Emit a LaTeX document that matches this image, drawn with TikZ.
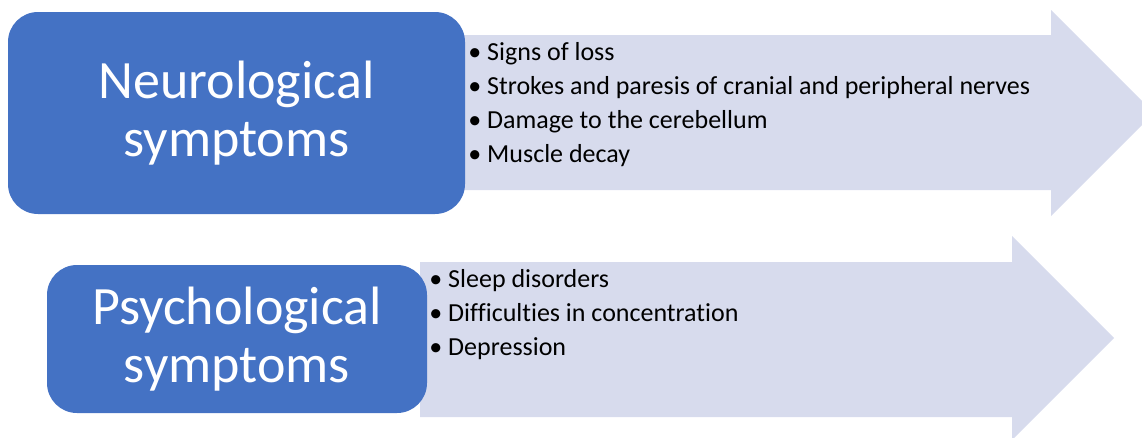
\documentclass[tikz,border=0pt]{standalone}
\usepackage{fontspec}
\setmainfont{Carlito}[Ligatures=NoCommon]
\usepackage{tikz}
\usetikzlibrary{positioning}
\definecolor{headblue}{RGB}{68,114,196}
\definecolor{arrowlav}{RGB}{215,219,237}
\tikzset{
  headbox/.style={fill=headblue, rounded corners=30pt, text=white,
                  align=center, inner sep=0pt,
                  font=\fontsize{54}{58}\selectfont},
  listtext/.style={anchor=north west, align=left, inner sep=0pt,
                   font=\fontsize{26}{34.3}\selectfont},
  bigarrow/.style={fill=arrowlav}
}

\begin{document}
\begin{tikzpicture}[x=1pt, y=-1pt]
  \useasboundingbox (0,0) rectangle (1142,437);
  \clip (0,0) rectangle (1142,437);

  % arrows behind the boxes
  \fill[bigarrow] (455,35) -- (1051,35) -- (1051,10) -- (1154,113)
      -- (1051,216) -- (1051,190) -- (455,190) -- cycle;
  \fill[bigarrow] (420,262) -- (1012,262) -- (1012,236) -- (1114,338)
      -- (1012,440) -- (1012,417) -- (420,417) -- cycle;

  \node[headbox, minimum width=457pt, minimum height=202pt] (neuro) at (236.5,113)
      {Neurological\\symptoms};
  \node[headbox, minimum width=380pt, minimum height=148pt] (psych) at (237,339)
      {Psychological\\symptoms};

  \node[listtext, right=3pt of neuro.north east, yshift=-30pt, anchor=north west] (neurolist)
      {\textbullet\ Signs of loss\\
       \textbullet\ Strokes and paresis of cranial and peripheral nerves\\
       \textbullet\ Damage to the cerebellum\\
       \textbullet\ Muscle decay};
  \node[listtext, right=2pt of psych.north east, yshift=-4pt, anchor=north west] (psychlist)
      {\textbullet\ Sleep disorders\\
       \textbullet\ Difficulties in concentration\\
       \textbullet\ Depression};
\end{tikzpicture}
\end{document}
